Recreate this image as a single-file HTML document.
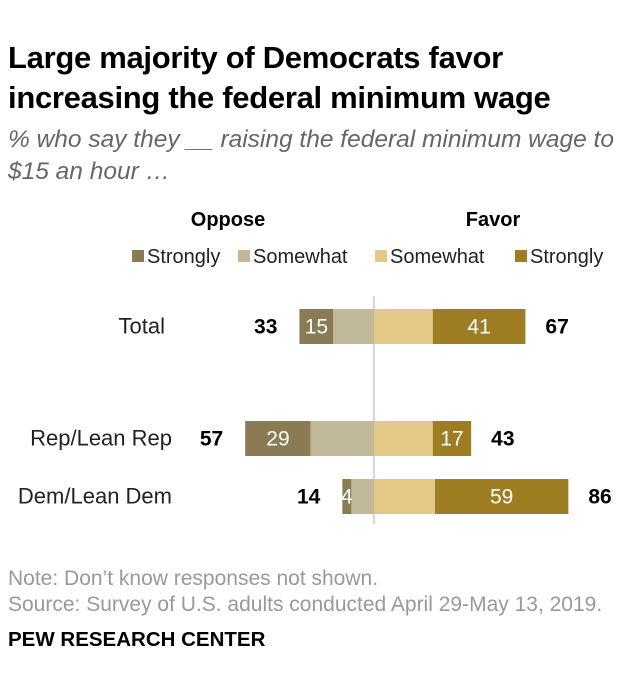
<!DOCTYPE html>
<html><head><meta charset="utf-8"><style>
body{margin:0;background:#fff;font-family:"Liberation Sans",Arial,sans-serif;}
#wrap{position:relative;width:620px;height:696px;overflow:hidden;}
.t{position:absolute;white-space:nowrap;}
</style></head><body>
<div id="wrap">
<div class="t" style="left:8px;top:38px;font-size:31px;font-weight:bold;line-height:40px;color:#000;letter-spacing:-0.3px">Large majority of Democrats favor<br>increasing the federal minimum wage</div>
<div class="t" style="left:8px;top:124px;font-size:24.5px;font-style:italic;color:#666;line-height:32px">% who say they __ raising the federal minimum wage to<br>$15 an hour …</div>
<svg id="chart" width="620" height="696" style="position:absolute;left:0;top:0"></svg>
<div class="t" style="left:8px;top:566px;font-size:21px;color:#999;line-height:26px">Note: Don’t know responses not shown.<br>Source: Survey of U.S. adults conducted April 29-May 13, 2019.</div>
<div class="t" style="left:8px;top:628px;font-size:20.5px;font-weight:bold;color:#000">PEW RESEARCH CENTER</div>
</div>
<script>
const categories=["Total","Rep/Lean Rep","Dem/Lean Dem"];
const strongOppose=[15,29,4];
const someOppose=[18,28,10];
const someFavor=[26,26,27];
const strongFavor=[41,17,59];
const totalOppose=[33,57,14];
const totalFavor=[67,43,86];
const rowY=[309,421,479];
const cx=374,k=2.26,bh=35;
const colors={so:"#8b7b55",mo:"#c2b99a",mf:"#e3c985",sf:"#9e7c22"};
const svg=document.getElementById('chart');
const NS="http://www.w3.org/2000/svg";
function x(v){return cx+v*k;}
function rect(x0,y,w,fill,name){const r=document.createElementNS(NS,'rect');r.setAttribute('x',x0);r.setAttribute('y',y);r.setAttribute('width',Math.max(0,w));r.setAttribute('height',bh);r.setAttribute('fill',fill);


svg.appendChild(r);}
function text(tx,ty,s,anchor,opts,name){const t=document.createElementNS(NS,'text');t.setAttribute('x',tx);t.setAttribute('y',ty);t.setAttribute('text-anchor',anchor);t.setAttribute('font-size',opts.size||21);t.setAttribute('fill',opts.fill||'#000');if(opts.bold)t.setAttribute('font-weight','bold');t.setAttribute('font-family','Liberation Sans, Arial, sans-serif');t.textContent=s;


svg.appendChild(t);}
text(228,226,"Oppose","middle",{bold:true,size:20},"oppose-header");
text(493,226,"Favor","middle",{bold:true,size:20},"favor-header");
const leg=[["Strongly",colors.so,132],["Somewhat",colors.mo,238],["Somewhat",colors.mf,375],["Strongly",colors.sf,515]];
leg.forEach((l,i)=>{const r=document.createElementNS(NS,'rect');r.setAttribute('x',l[2]);r.setAttribute('y',250);r.setAttribute('width',12);r.setAttribute('height',12);r.setAttribute('fill',l[1]);


svg.appendChild(r);text(l[2]+15,263,l[0],"start",{size:20,fill:'#222'},"legend-entry");});
const ln=document.createElementNS(NS,'line');ln.setAttribute('x1',cx);ln.setAttribute('x2',cx);ln.setAttribute('y1',296);ln.setAttribute('y2',524);ln.setAttribute('stroke','#ccc');ln.setAttribute('stroke-width',1.5);


svg.appendChild(ln);
categories.forEach((c,i)=>{
 const y=rowY[i],ty=y+bh/2+7;
 const so=x(-(strongOppose[i]+someOppose[i])),mo=x(-someOppose[i]);
 rect(so,y,mo-so,colors.so,'bar-strongly-oppose');
 rect(mo,y,cx-mo,colors.mo,'bar-somewhat-oppose');
 const mf=x(someFavor[i]),sf=x(someFavor[i]+strongFavor[i]);
 rect(cx,y,mf-cx,colors.mf,'bar-somewhat-favor');
 rect(mf,y,sf-mf,colors.sf,'bar-strongly-favor');
 text((so+mo)/2,ty,String(strongOppose[i]),"middle",{fill:'#fff',size:21},"strongly-oppose-value");
 text((mf+sf)/2,ty,String(strongFavor[i]),"middle",{fill:'#fff',size:21},"strongly-favor-value");
 text(so-22,ty,String(totalOppose[i]),"end",{bold:true,size:21},"total-oppose-value");
 text(sf+20,ty,String(totalFavor[i]),"start",{bold:true,size:21},"total-favor-value");
 text(i==0?165:172,ty,c,"end",{size:22,fill:'#222'},"category-label");
});
</script>
</body></html>
